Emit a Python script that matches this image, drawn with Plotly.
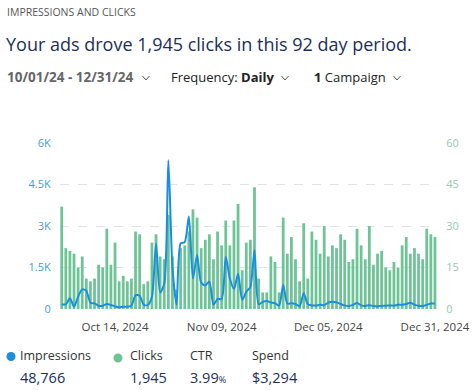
import plotly.graph_objects as go
import pandas as pd

# ---- data ----
dates = pd.date_range("2024-10-01", "2024-12-31", freq="D")
clicks = [37, 22, 21, 20, 15, 19, 11, 10, 11, 16, 15, 29, 16, 24, 10, 12, 10, 11, 28,
          27, 9, 10, 24, 27, 19, 18, 34, 19, 7, 22, 23, 28, 36, 33, 22, 25, 27, 18,
          28, 23, 32, 23, 32, 38, 14, 24, 25, 44, 11, 6, 6, 19, 17, 6, 33, 20,
          26, 18, 10, 31, 11, 28, 25, 20, 30, 19, 23, 22, 27, 25, 17, 18, 29, 23, 18,
          30, 16, 20, 21, 15, 14, 17, 15, 23, 26, 20, 22, 20, 18, 29, 27, 26]
impressions = [170, 170, 385, 85, 445, 710, 660, 230, 205, 120, 120, 180, 145, 95, 60, 85, 85, 120,
               500, 480, 150, 145, 445, 2370, 600, 900, 5380, 1500, 150, 2370, 2420, 3340, 1100, 1950,
               950, 850, 990, 150,
               360, 360, 1890, 1100, 720, 1270, 330, 620, 800, 2130, 170, 260, 290, 240, 210, 120, 870,
               200, 210, 180, 100, 570, 170,
               130, 126, 150, 140, 230, 260, 240, 180, 130, 110, 150, 220, 130, 110, 140, 110, 90, 120,
               120, 130, 120, 150, 150, 180, 230, 160, 120, 110, 150, 200, 200]
x_ticks = ["2024-10-14", "2024-11-09", "2024-12-05", "2024-12-31"]
imp_tickvals = [0, 1500, 3000, 4500, 6000]
imp_ticktext = ["0", "1.5K", "3K", "4.5K", "6K"]
clk_tickvals = [0, 15, 30, 45, 60]

summary_labels = ["Impressions", "Clicks", "CTR", "Spend"]
summary_values = ["48,766", "1,945", "3.99<span style='font-size:9px'>%</span>", "$3,294"]

FONT = "Open Sans"
NAVY = "#1d2f57"
GREEN = "#6fc497"
BLUE = "#1a8fe0"

W, H = 476, 390
L, R, T, B = 60, 437, 143, 309


def px(x):
    return (x - L) / (R - L)


def py(y):
    return (B - y) / (B - T)


fig = go.Figure()
fig.add_trace(go.Bar(x=dates, y=clicks, marker_color=GREEN, marker_line_width=0,
                     yaxis="y", name="Clicks"))
fig.add_trace(go.Scatter(x=dates, y=impressions, mode="lines", yaxis="y2",
                         line=dict(color=BLUE, width=2, shape="spline", smoothing=0.7),
                         name="Impressions"))

anns = []


def text(x, y, s, size, color, family=FONT):
    anns.append(dict(x=px(x), y=py(y), xref="paper", yref="paper", text=s, showarrow=False,
                     xanchor="left", yanchor="middle", borderpad=0,
                     font=dict(size=size, color=color, family=family)))


text(6, 12, "IMPRESSIONS AND CLICKS", 10.5, "#555555")
text(5, 44, "Your ads drove 1,945 clicks in this 92 day period.", 18, NAVY)
text(6, 77, "<b>10/01/24 - 12/31/24</b>", 13.5, "#666666")
text(170, 77, "Frequency: <b>Daily</b>", 13, "#222222")
text(313, 77, "<b>1</b> Campaign", 13, "#222222")

shapes = []
for cx in [146, 285, 397]:
    shapes.append(dict(type="path", xref="paper", yref="paper",
                       path=f"M {px(cx-3.5)} {py(76)} L {px(cx)} {py(80)} L {px(cx+3.5)} {py(76)}",
                       line=dict(color="#555555", width=1)))

cols = [19, 129, 189, 251]
for i, (lab, val) in enumerate(zip(summary_labels, summary_values)):
    text(cols[i], 355, lab, 12.5, "#333333")
    text(cols[i], 377, val, 14.5, NAVY)

for cx, cy, col in [(11, 356.5, BLUE), (118, 358, GREEN)]:
    shapes.append(dict(type="circle", xref="paper", yref="paper",
                       x0=px(cx - 4.5), x1=px(cx + 4.5), y0=py(cy + 4.5), y1=py(cy - 4.5),
                       fillcolor=col, line=dict(width=0)))

fig.update_layout(
    width=W, height=H, margin=dict(l=L, r=W - R, t=T, b=H - B, autoexpand=False),
    paper_bgcolor="white", plot_bgcolor="white", showlegend=False, bargap=0.32,
    font=dict(family=FONT),
    annotations=anns, shapes=shapes,
    xaxis=dict(type="date", range=["2024-09-30 14:00", "2024-12-31 12:00"], automargin=False,
               tickvals=x_ticks, tickformat="%b %d, %Y", showgrid=False, zeroline=False,
               showline=False, ticks="outside", ticklen=7, tickcolor="rgba(0,0,0,0)",
               tickfont=dict(size=11.5, color="#444444")),
    yaxis=dict(side="right", range=[0, 60], tickvals=clk_tickvals, showgrid=True, automargin=False,
               gridcolor="#dfe2e8", griddash="dash", gridwidth=1, zeroline=False,
               ticks="outside", ticklen=6, tickcolor="rgba(0,0,0,0)",
               tickfont=dict(size=11, color="#93cbb0")),
    yaxis2=dict(side="left", overlaying="y", range=[0, 6000], tickvals=imp_tickvals, automargin=False,
                ticktext=imp_ticktext, showgrid=False, zeroline=False,
                ticks="outside", ticklen=6, tickcolor="rgba(0,0,0,0)",
                tickfont=dict(size=11, color="#3f9fd8")),
)

fig.write_html("out.html", config={"displayModeBar": False},
               post_script="document.body.style.margin='0';")
